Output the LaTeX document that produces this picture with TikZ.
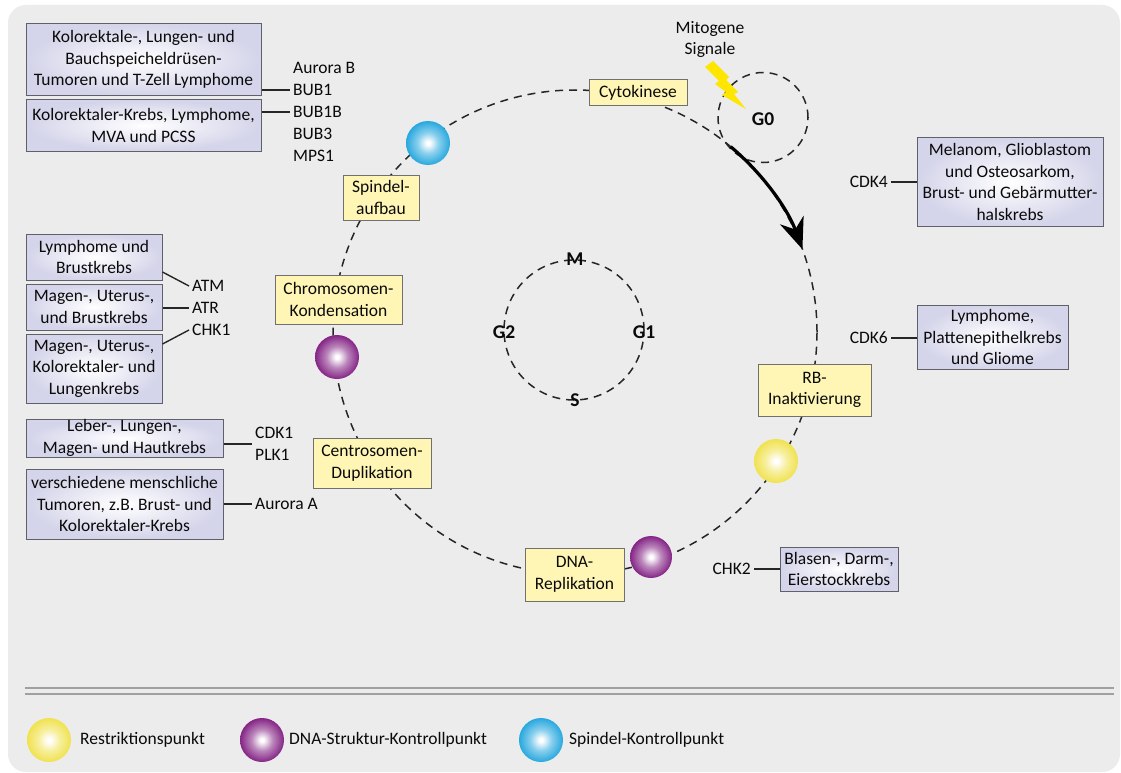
\documentclass[tikz,border=0pt]{standalone}
\usepackage{fontspec}
\setmainfont{Carlito}
\usetikzlibrary{arrows.meta,calc}
\definecolor{bgc}{HTML}{ECECEC}
\definecolor{yfill}{HTML}{FFF5B5}
\definecolor{ybord}{HTML}{707070}
\definecolor{pfill}{HTML}{D4D4EA}
\definecolor{pbord}{HTML}{606068}
\definecolor{txt}{HTML}{0A0A0A}
\definecolor{sepgray}{HTML}{A0A0A0}
\definecolor{boltc}{HTML}{FFE600}
\definecolor{ylw}{HTML}{F0E250}
\definecolor{prp}{HTML}{842585}
\definecolor{blu}{HTML}{28A8DE}
\pgfdeclareradialshading{ballyel}{\pgfpointorigin}{color(0bp)=(white); color(2bp)=(white); color(12bp)=(ylw!55!white); color(25bp)=(ylw); color(50bp)=(ylw)}
\pgfdeclareradialshading{ballprp}{\pgfpointorigin}{color(0bp)=(white); color(2bp)=(white); color(12bp)=(prp!55!white); color(25bp)=(prp); color(50bp)=(prp)}
\pgfdeclareradialshading{ballblu}{\pgfpointorigin}{color(0bp)=(white); color(2bp)=(white); color(12bp)=(blu!55!white); color(25bp)=(blu); color(50bp)=(blu)}
\tikzset{
  mfont/.style={font=\fontsize{17.5}{21.5}\selectfont},
  ybox/.style={draw=ybord, fill=yfill, line width=1pt, align=center, inner sep=1pt, mfont, text=txt},
  pbox/.style={draw=pbord, inner color=white, outer color=pfill, line width=1pt, align=center, inner sep=0pt, mfont, text=txt},
  lbl/.style={inner sep=3pt, mfont, text=txt},
  conn/.style={draw=black!85, line width=1.4pt},
  cyc/.style={draw=black!85, line width=1.5pt, dash pattern=on 8pt off 6pt},
  ballnode/.style={circle, minimum size=44pt, inner sep=0pt, shade},
  phase/.style={inner sep=0pt, font=\fontsize{19.5}{23}\selectfont\bfseries, text=txt}
}
\begin{document}
\begin{tikzpicture}[x=1pt,y=1pt]
\useasboundingbox (0,0) rectangle (1121,-773);
\fill[white] (0,0) rectangle (1121,-773);
\fill[bgc, rounded corners=18pt] (8,-5) rectangle (1120,-772);

% cycle circles
\coordinate (cc) at (575,-332);
\draw[cyc] (cc) circle (242);
\coordinate (ic) at (574,-330);
\draw[cyc] (ic) circle (70);
\coordinate (gc) at (763,-117.5);
\draw[cyc] (gc) circle (45);

% arrow
\draw[line width=3.2pt, black, -{Stealth[length=31pt, width=25pt, inset=10pt]}] ($(cc)+(50:242)$) arc[start angle=50, end angle=20, radius=242];

% lightning
\fill[boltc] (705,-67) -- (713,-61) -- (729,-77) -- (726,-80) -- (738,-92) -- (734,-94) -- (746,-109) -- (722,-95) -- (726,-92) -- (715,-84) -- (719,-81) -- cycle;
\node[lbl, align=center] (mito) at (710,-39.5) {Mitogene\\Signale};

% phase labels
\node[phase] (pm) at (575,-259) {M};
\node[phase] (ps) at (575,-400) {S};
\node[phase] (pg2) at (504,-332) {G2};
\node[phase] (pg1) at (644,-332) {G1};
\node[phase] (pg0) at (763,-119) {G0};

% yellow boxes
\node[ybox, minimum width=98pt, minimum height=26pt] (cyto) at (638,-93) {Cytokinese};
\node[ybox, minimum width=76pt, minimum height=45pt] (spin) at (381,-197.5) {Spindel-\\aufbau};
\node[ybox, minimum width=127pt, minimum height=49pt] (chrom) at (338.5,-299.5) {Chromosomen-\\Kondensation};
\node[ybox, minimum width=118pt, minimum height=50pt] (centro) at (372,-463) {Centrosomen-\\Duplikation};
\node[ybox, minimum width=99pt, minimum height=53pt] (dna) at (574.5,-574.5) {DNA-\\Replikation};
\node[ybox, minimum width=113pt, minimum height=52pt] (rb) at (814.5,-390) {RB-\\Inaktivierung};

% balls
\node[ballnode, shading=ballblu] (bsp) at (428,-143) {};
\node[ballnode, shading=ballprp] (bp1) at (337,-357) {};
\node[ballnode, shading=ballyel] (by) at (776,-461) {};
\node[ballnode, shading=ballprp, minimum size=42pt] (bp2) at (651,-557) {};

% purple boxes
\node[pbox, minimum width=235pt, minimum height=72pt] (b1) at (143.5,-59.5) {Kolorektale-, Lungen- und\\Bauchspeicheldrüsen-\\Tumoren und T-Zell Lymphome};
\node[pbox, minimum width=235pt, minimum height=51pt] (b2) at (143.5,-125.5) {Kolorektaler-Krebs, Lymphome,\\MVA und PCSS};
\node[pbox, minimum width=136pt, minimum height=46pt] (b3) at (94,-257) {Lymphome und\\Brustkrebs};
\node[pbox, minimum width=136pt, minimum height=46pt] (b4) at (94,-307) {Magen-, Uterus-,\\und Brustkrebs};
\node[pbox, minimum width=136pt, minimum height=69pt] (b5) at (94,-368.5) {Magen-, Uterus-,\\Kolorektaler- und\\Lungenkrebs};
\node[pbox, minimum width=197pt, minimum height=38pt] (b6) at (124.5,-438) {Leber-, Lungen-,\\Magen- und Hautkrebs};
\node[pbox, minimum width=197pt, minimum height=70pt] (b7) at (124.5,-504) {verschiedene menschliche\\Tumoren, z.B. Brust- und\\Kolorektaler-Krebs};
\node[pbox, minimum width=186pt, minimum height=89pt] (b8) at (1010,-182) {Melanom, Glioblastom\\und Osteosarkom,\\Brust- und Gebärmutter-\\halskrebs};
\node[pbox, minimum width=151pt, minimum height=64pt] (b9) at (992.5,-337) {Lymphome,\\Plattenepithelkrebs\\und Gliome};
\node[pbox, minimum width=118pt, minimum height=44pt] (b10) at (839,-569) {Blasen-, Darm-,\\Eierstockkrebs};

% gene labels
\node[lbl, anchor=west] (aurb) at (290,-68) {Aurora B};
\node[lbl, anchor=west] (bub1) at (290,-90) {BUB1};
\node[lbl, anchor=west] (bub1b) at (290,-112) {BUB1B};
\node[lbl, anchor=west] (bub3) at (290,-134) {BUB3};
\node[lbl, anchor=west] (mps1) at (290,-156) {MPS1};
\node[lbl, anchor=west] (atm) at (189,-286) {ATM};
\node[lbl, anchor=west] (atr) at (189,-308) {ATR};
\node[lbl, anchor=west] (chk1) at (189,-330) {CHK1};
\node[lbl, anchor=west] (cdk1) at (252,-433) {CDK1};
\node[lbl, anchor=west] (plk1) at (252,-455) {PLK1};
\node[lbl, anchor=west] (aura) at (252,-504) {Aurora A};
\node[lbl, anchor=east] (cdk4) at (891,-182) {CDK4};
\node[lbl, anchor=east] (cdk6) at (891,-338) {CDK6};
\node[lbl, anchor=east] (chk2) at (754,-569) {CHK2};
\coordinate (cdkp) at ($(cdk1.west)!0.5!(plk1.west)$);

% connectors
\draw[conn] (b1.east |- bub1.west) -- (bub1.west);
\draw[conn] (b2.east |- bub1b.west) -- (bub1b.west);
\draw[conn] ($(b3.east)+(0,-15)$) -- (atm.west);
\draw[conn] (b4.east |- atr.west) -- (atr.west);
\draw[conn] ($(b5.east)+(0,24.5)$) -- (chk1.west);
\draw[conn] (b6.east |- cdkp) -- (cdkp);
\draw[conn] (b7.east |- aura.west) -- (aura.west);
\draw[conn] (cdk4.east) -- (b8.west |- cdk4.east);
\draw[conn] (cdk6.east) -- (b9.west |- cdk6.east);
\draw[conn] (chk2.east) -- (b10.west |- chk2.east);

% legend
\draw[sepgray, line width=1.8pt] (25,-688) -- (1114,-688);
\draw[sepgray, line width=1.8pt] (25,-694) -- (1114,-694);
\node[ballnode, shading=ballyel] (ly) at (49,-740) {};
\node[lbl, anchor=west] (lyt) at (77,-740) {Restriktionspunkt};
\node[ballnode, shading=ballprp] (lp) at (262,-740) {};
\node[lbl, anchor=west] (lpt) at (286,-740) {DNA-Struktur-Kontrollpunkt};
\node[ballnode, shading=ballblu] (lb) at (541,-740) {};
\node[lbl, anchor=west] (lbt) at (566,-740) {Spindel-Kontrollpunkt};
\end{tikzpicture}
\end{document}
